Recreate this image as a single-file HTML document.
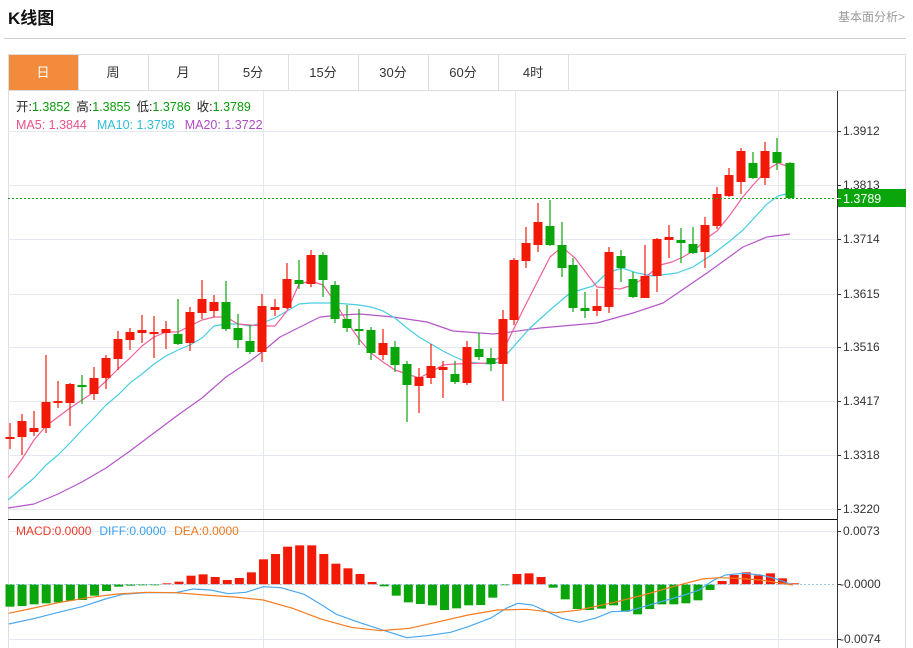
<!DOCTYPE html>
<html><head><meta charset="utf-8"><style>
*{margin:0;padding:0}
body{width:913px;height:648px;background:#fff;overflow:hidden;position:relative;font-family:"Liberation Sans","Noto Sans CJK SC",sans-serif}
svg{position:absolute;left:0;top:0}
</style></head><body>
<svg id="s" width="913" height="648" viewBox="0 0 913 648" xmlns="http://www.w3.org/2000/svg" font-family="Liberation Sans, Noto Sans CJK SC, sans-serif">
<text x="8" y="24" font-size="17" font-weight="bold" fill="#111">K线图</text>
<text x="838" y="21" font-size="12" fill="#999">基本面分析&gt;</text>
<line x1="4" y1="38.5" x2="906" y2="38.5" stroke="#d0d0d0"/>
<rect x="8.5" y="54.5" width="897" height="600" fill="none" stroke="#ddd"/>
<line x1="8" y1="90.5" x2="906" y2="90.5" stroke="#ddd"/>
<rect x="9" y="55" width="69" height="35" fill="#f28c3c"/>
<g font-size="13" fill="#333" text-anchor="middle">
<text x="43" y="77" fill="#fff">日</text>
<text x="113" y="77">周</text><text x="183" y="77">月</text><text x="253" y="77">5分</text>
<text x="323" y="77">15分</text><text x="393" y="77">30分</text><text x="463" y="77">60分</text><text x="533" y="77">4时</text>
</g>
<g stroke="#ddd"><line x1="78.5" y1="55" x2="78.5" y2="90"/><line x1="148.5" y1="55" x2="148.5" y2="90"/><line x1="218.5" y1="55" x2="218.5" y2="90"/><line x1="288.5" y1="55" x2="288.5" y2="90"/><line x1="358.5" y1="55" x2="358.5" y2="90"/><line x1="428.5" y1="55" x2="428.5" y2="90"/><line x1="498.5" y1="55" x2="498.5" y2="90"/><line x1="568.5" y1="55" x2="568.5" y2="90"/></g>
<g id="grid" stroke="#e3e9ef" stroke-width="1"></g>
<g id="plot"></g>
<text x="16" y="111" font-size="12.5"><tspan fill="#222">开:</tspan><tspan fill="#0a9a0a">1.3852</tspan><tspan fill="#222" dx="6">高:</tspan><tspan fill="#0a9a0a">1.3855</tspan><tspan fill="#222" dx="6">低:</tspan><tspan fill="#0a9a0a">1.3786</tspan><tspan fill="#222" dx="6">收:</tspan><tspan fill="#0a9a0a">1.3789</tspan></text>
<text x="16" y="129" font-size="12.5"><tspan fill="#e8508a">MA5: 1.3844</tspan><tspan fill="#30bcd8" dx="10">MA10: 1.3798</tspan><tspan fill="#b04cc4" dx="10">MA20: 1.3722</tspan></text>
<text x="16" y="535" font-size="12"><tspan fill="#f03a2a">MACD:0.0000</tspan><tspan fill="#3aa0f0" dx="8">DIFF:0.0000</tspan><tspan fill="#f07820" dx="8">DEA:0.0000</tspan></text>
</svg>
<script>
var S='http://www.w3.org/2000/svg',g=document.getElementById('grid'),p=document.getElementById('plot');
function el(t,a,par){var e=document.createElementNS(S,t);for(var k in a)e.setAttribute(k,a[k]);(par||p).appendChild(e);return e;}
var prices=[[131,'1.3912'],[185,'1.3813'],[239,'1.3714'],[294,'1.3615'],[347,'1.3516'],[401,'1.3417'],[455,'1.3318'],[509,'1.3220']];
prices.forEach(function(q){el('line',{x1:8,x2:837,y1:q[0]+.5,y2:q[0]+.5},g);});
[531,639].forEach(function(y){el('line',{x1:8,x2:837,y1:y+.5,y2:y+.5},g);});
[263,515,778].forEach(function(x){el('line',{x1:x+.5,x2:x+.5,y1:91,y2:648},g);});
var C=[[10,439,437,423,449],[22,437,421,414,455],[34,432,428,411,436],[46,428,402,355,433],[58,403,401,381,408],[70,403,384,383,426],[82,385,387,375,404],[94,394,378,367,400],[106,378,358,355,389],[118,359,339,331,370],[130,340,332,328,350],[142,333,330,315,343],[154,333,332,316,358],[166,333,329,321,349],[178,334,344,299,345],[190,343,312,307,351],[202,313,299,280,319],[214,311,302,295,317],[226,302,329,281,331],[238,328,340,314,348],[250,341,352,325,354],[262,352,306,294,362],[275,310,307,299,316],[287,308,279,263,309],[299,280,284,260,289],[311,284,255,250,287],[323,255,280,252,297],[335,285,319,281,323],[347,319,328,305,332],[359,329,331,309,345],[371,330,353,327,360],[383,355,343,329,360],[395,347,365,341,372],[407,364,385,361,422],[419,386,377,368,413],[431,378,366,344,384],[443,370,367,361,398],[455,374,382,361,384],[467,383,347,341,385],[479,349,357,333,360],[491,358,364,348,371],[503,364,319,310,401],[514,320,260,258,325],[526,261,243,227,268],[538,245,222,203,252],[550,226,245,200,246],[562,245,268,222,277],[573,265,308,258,312],[585,308,311,292,318],[597,311,306,289,316],[609,307,252,247,313],[621,256,268,250,282],[633,279,297,272,298],[645,298,276,245,298],[657,276,239,238,292],[669,240,237,225,258],[681,240,243,228,263],[693,244,253,227,254],[705,252,225,217,268],[717,226,194,187,229],[729,196,175,168,197],[741,182,151,148,194],[753,163,178,152,179],[765,178,151,142,185],[777,152,163,138,170],[790,163,198,162,199]];
function line(pts,col,w){el('polyline',{points:pts.map(function(a){return a.join(',')}).join(' '),fill:'none',stroke:col,'stroke-width':w||1.2,'stroke-linejoin':'round'});}
line([[8,508],[34,504],[58,494],[82,482],[106,468],[130,451],[154,433],[178,415],[202,398],[226,377],[250,361],[262,352],[280,337],[300,327],[320,317],[340,315],[360,314],[393,317],[427,322],[453,331],[493,334],[503,333],[540,328],[597,323],[633,313],[663,303],[707,273],[743,247],[767,237],[790,234]],'#b456c8');
line([[8,500],[22,488],[34,478],[46,465],[58,455],[70,443],[82,430],[94,418],[106,405],[118,395],[130,383],[142,374],[154,364],[166,356],[178,350],[190,345],[202,338],[214,326],[226,324],[238,324],[250,326],[262,323],[275,318],[287,311],[299,304],[311,303],[323,303],[335,303],[347,304],[359,305],[371,307],[383,311],[395,318],[407,328],[419,337],[431,344],[443,351],[455,357],[467,362],[490,364],[500,362],[530,328],[550,310],[570,293],[593,286],[607,273],[622,268],[637,273],[653,276],[677,273],[693,267],[713,254],[730,241],[743,230],[767,204],[778,196],[790,193]],'#48cde2');
line([[8,478],[22,459],[34,440],[46,426],[58,417],[70,408],[82,400],[94,392],[106,381],[118,369],[130,358],[142,346],[154,337],[166,332],[178,332],[190,326],[202,320],[214,317],[226,317],[238,324],[250,325],[262,326],[275,326],[287,311],[299,284],[311,281],[323,285],[335,302],[347,322],[359,339],[371,353],[383,362],[395,370],[407,374],[419,378],[431,372],[443,365],[455,364],[490,363],[500,357],[523,310],[550,257],[562,247],[575,258],[597,287],[620,289],[633,285],[647,276],[660,265],[672,262],[683,257],[695,250],[707,238],[717,231],[730,215],[742,198],[753,185],[767,170],[778,163],[790,167]],'#f0609a');
C.forEach(function(c){var up=c[2]<c[1],col=up?'#f21a06':'#0aa50a';
el('line',{x1:c[0],x2:c[0],y1:c[3],y2:c[4],stroke:col,'stroke-width':1.2});
var t=Math.min(c[1],c[2]),h=Math.max(Math.abs(c[1]-c[2]),2);el('rect',{x:c[0]-4.5,y:t,width:9,height:h,fill:col});});
el('line',{x1:8,x2:836,y1:198.5,y2:198.5,stroke:'#1aa81a','stroke-dasharray':'2,2'});
var Z=[275,273,268,265,262,257,255,242,228,215,212,211,210,205,200,182,178,186,195,189,172,133,117,95,91,91,117,146,160,177,201,214,242,262,267,271,285,280,271,270,248,208,177,175,186,218,253,282,285,281,271,290,298,282,268,268,265,256,225,198,180,172,181,175,190,205];
var base=584.3;
Z.forEach(function(z,i){var x=10+i*12.07,y=515+z/3,col=y<base?'#f21a06':'#0aa50a';el('rect',{x:x-4.5,y:Math.min(y,base),width:9,height:Math.max(Math.abs(y-base),1),fill:col});});
el('line',{x1:8,x2:836,y1:584.5,y2:584.5,stroke:'#9cc8e8','stroke-dasharray':'2,2'});
function ml(a,col){line(a.map(function(q){return [q[0]/1.709,515+q[1]/3]}),col,1.2);}
ml([[15,327],[60,310],[100,292],[140,275],[180,252],[210,238],[250,233],[300,233],[330,222],[360,225],[390,236],[420,232],[450,215],[480,218],[520,238],[550,270],[575,298],[610,320],[650,343],[695,368],[730,362],[770,352],[800,335],[840,308],[865,280],[885,265],[910,270],[935,290],[960,310],[990,322],[1020,308],[1045,290],[1075,288],[1100,275],[1140,255],[1170,240],[1195,225],[1220,195],[1240,180],[1270,175],[1300,180],[1320,188],[1340,200],[1355,210]],'#4aa8f0');
ml([[15,295],[50,282],[100,263],[150,248],[200,237],[250,232],[300,233],[350,240],[400,246],[450,255],[500,280],[550,313],[600,337],[650,347],[700,340],[750,320],[800,300],[850,285],[900,283],[950,293],[990,285],[1050,262],[1100,240],[1150,215],[1200,192],[1230,188],[1260,190],[1300,195],[1330,203],[1355,210]],'#f57c20');
el('line',{x1:8,x2:837,y1:519.5,y2:519.5,stroke:'#111'});
el('line',{x1:837.5,x2:837.5,y1:91,y2:648,stroke:'#333'});
prices.forEach(function(q){el('line',{x1:837,x2:841,y1:q[0]+.5,y2:q[0]+.5,stroke:'#333'});var t=el('text',{x:843,y:q[0]+4,'font-size':12,fill:'#333'});t.textContent=q[1];});
[[531,'0.0073'],[584,'-0.0000'],[639,'-0.0074']].forEach(function(q){el('line',{x1:837,x2:841,y1:q[0]+.5,y2:q[0]+.5,stroke:'#333'});var t=el('text',{x:q[1][0]=='-'?840:843,y:q[0]+4,'font-size':12,fill:'#333'});t.textContent=q[1];});
el('rect',{x:838,y:189,width:68,height:18,fill:'#0aa50a'});
el('line',{x1:837,x2:841,y1:198.5,y2:198.5,stroke:'#fff'});
var t=el('text',{x:843,y:203,'font-size':12.5,fill:'#fff'});t.textContent='1.3789';
</script>
</body></html>
